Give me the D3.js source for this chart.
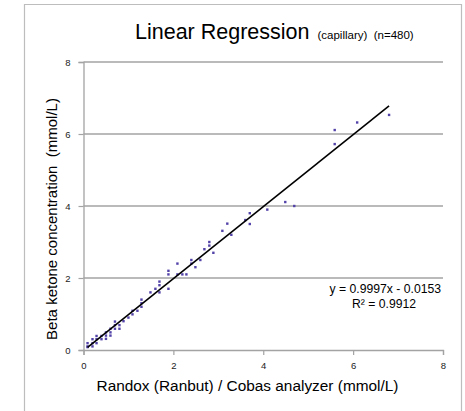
<!DOCTYPE html>
<html><head><meta charset="utf-8">
<script src="https://cdnjs.cloudflare.com/ajax/libs/d3/7.8.5/d3.min.js"></script>
<style>body{margin:0;background:#fff}svg{display:block;font-family:"Liberation Sans",Arial,sans-serif}svg text{white-space:pre}</style>
</head><body>
<svg id="c" width="465" height="411"></svg>
<script>
const xTicks = [0, 2, 4, 6, 8];
const yTicks = [0, 2, 4, 6, 8];
const xValues = [0.09,0.09,0.09,0.2,0.2,0.2,0.29,0.29,0.29,0.4,0.4,0.5,0.5,0.5,0.6,0.6,0.6,0.7,0.7,0.7,0.8,0.8,0.89,1.0,1.09,1.09,1.2,1.29,1.29,1.29,1.49,1.6,1.69,1.69,1.69,1.89,1.89,1.89,2.09,2.09,2.2,2.29,2.4,2.4,2.49,2.6,2.69,2.8,2.8,2.89,3.09,3.2,3.29,3.6,3.7,3.7,4.09,4.49,4.69,5.59,5.59,6.09,6.8];
const yValues = [0.19,0.1,0.08,0.3,0.19,0.1,0.39,0.3,0.19,0.39,0.3,0.49,0.4,0.31,0.59,0.49,0.4,0.79,0.69,0.59,0.69,0.59,0.8,0.9,1.09,0.99,1.09,1.4,1.3,1.2,1.6,1.7,1.9,1.8,1.6,2.2,2.1,1.7,2.4,2.1,2.1,2.1,2.5,2.4,2.3,2.5,2.8,3.0,2.9,2.7,3.31,3.51,3.2,3.61,3.8,3.5,3.9,4.11,4.0,6.11,5.72,6.32,6.53];
const slope = 0.9997, intercept = -0.0153;
const fitRange = [0.09, 6.8];
const titleMain = "Linear Regression", titleSub = "(capillary)  (n=480)";
const xLabel = "Randox (Ranbut) / Cobas analyzer (mmol/L)";
const yLabel = "Beta ketone concentration  (mmol/L)";
const eqLine = "y = 0.9997x - 0.0153", r2Line = "R² = 0.9912";

const svg = d3.select("#c");
// outer frame
svg.append("path").attr("d","M24.5,411 V4.5 H461.5 V411").attr("fill","none").attr("stroke","#bdbdbd").attr("stroke-width",1.2);

const x = d3.scaleLinear().domain([0,8]).range([83.5,443]);
const y = d3.scaleLinear().domain([0,8]).range([350,62]);

// gridlines
svg.append("g").selectAll("line").data(yTicks.filter(d=>d>0)).join("line")
  .attr("x1",x(0)).attr("x2",x(8)).attr("y1",d=>y(d)).attr("y2",d=>y(d))
  .attr("stroke","#a3a3a3").attr("stroke-width",1.3);

// axes
const gx = svg.append("g").attr("transform",`translate(0,${y(0)})`)
  .call(d3.axisBottom(x).tickValues(xTicks).tickSize(5).tickPadding(7).tickFormat(d3.format("d")));
const gy = svg.append("g").attr("transform",`translate(${x(0)},0)`)
  .call(d3.axisLeft(y).tickValues(yTicks).tickSize(5).tickPadding(8).tickFormat(d3.format("d")));
[gx,gy].forEach(g=>{
  g.select(".domain").attr("stroke","#a3a3a3").attr("stroke-width",1.3);
  g.selectAll(".tick line").attr("stroke","#a3a3a3").attr("stroke-width",1.2);
  g.selectAll("text").attr("font-size",9.5).attr("fill","#222").attr("font-family","Liberation Sans, Arial, sans-serif");
});

// points
svg.append("g").selectAll("rect").data(xValues.map((v,i)=>[v,yValues[i]])).join("rect")
  .attr("x",d=>x(d[0])-1.2).attr("y",d=>y(d[1])-1.2).attr("width",2.4).attr("height",2.4)
  .attr("fill","#5243a8");

// regression line
svg.append("line").attr("x1",x(fitRange[0])).attr("y1",y(slope*fitRange[0]+intercept))
  .attr("x2",x(fitRange[1])).attr("y2",y(slope*fitRange[1]+intercept))
  .attr("stroke","#000").attr("stroke-width",1.6);

// title
const t = svg.append("text").attr("x",135).attr("y",39).attr("fill","#000");
t.append("tspan").attr("font-size",21.5).text(titleMain);
t.append("tspan").attr("font-size",11.5).attr("dx",8).text(titleSub);

// equation
svg.append("text").attr("x",441).attr("y",293).attr("text-anchor","end").attr("font-size",12.2).text(eqLine);
svg.append("text").attr("x",384).attr("y",308).attr("text-anchor","middle").attr("font-size",12.2).text(r2Line);

// axis labels
svg.append("text").attr("x",(95+400)/2).attr("y",391).attr("text-anchor","middle").attr("font-size",15.4).text(xLabel);
svg.append("text").attr("transform","translate(57,219) rotate(-90)").attr("text-anchor","middle").attr("font-size",15).text(yLabel);
</script>
</body></html>
